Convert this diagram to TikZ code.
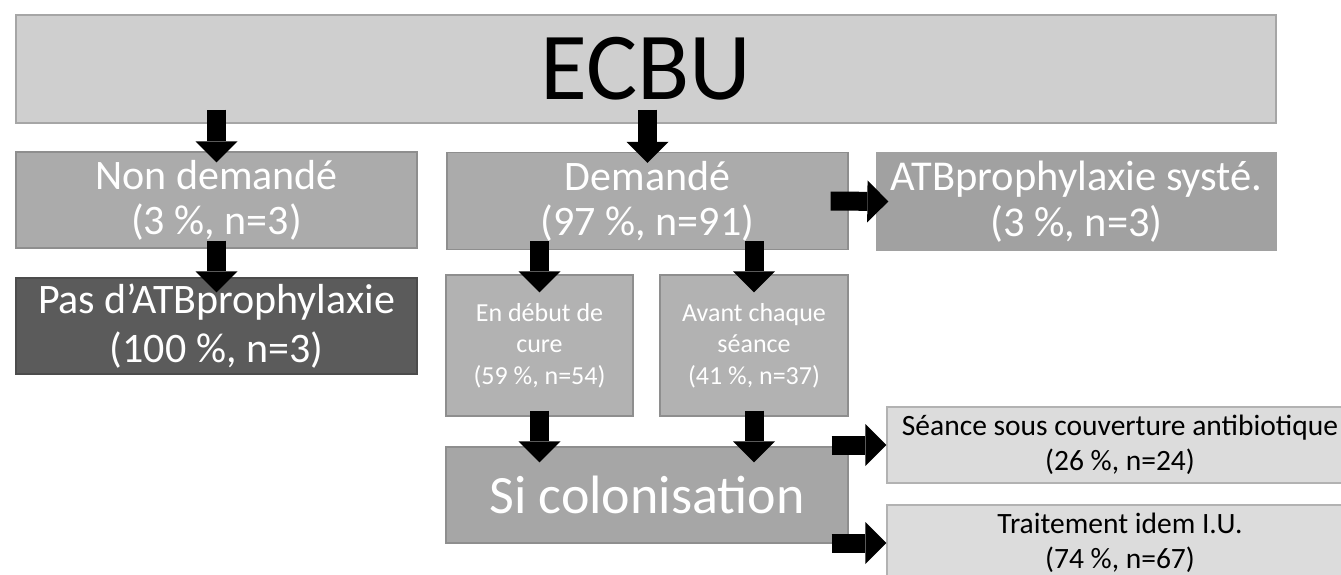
\documentclass[tikz,border=0pt]{standalone}
\usepackage{fontspec}
\setmainfont{Carlito}
\usetikzlibrary{arrows.meta}

\definecolor{lightgrey}{HTML}{CFCFCF}
\definecolor{midgrey}{HTML}{ABABAB}
\definecolor{edgegrey}{HTML}{8E8E8E}
\definecolor{darkgrey}{HTML}{5B5B5B}
\definecolor{palegrey}{HTML}{DCDCDC}

\begin{document}
\begin{tikzpicture}[x=1pt,y=-1pt,
    box/.style={rectangle, inner sep=0pt, align=center, line width=1.3pt},
    greybox/.style={box, fill=midgrey, draw=edgegrey, text=white},
    palebox/.style={box, fill=palegrey, draw=black!30, text=black,
        minimum width=466, minimum height=76,
        font=\fontsize{29.5}{35}\selectfont},
    bigarrow/.style={line width=19pt,
        -{Triangle[width=42pt,length=21pt,line width=0pt]}}
]
    % Fix the page size
    \useasboundingbox (0,0) rectangle (1341,574);

    % Top box
    \node[box, fill=lightgrey, draw=black!35, minimum width=1260, minimum height=108,
        font=\fontsize{96}{100}\selectfont] (ecbu) at (646,69) {ECBU};

    % Second row
    \node[greybox, minimum width=401, minimum height=96,
        font=\fontsize{42}{45}\selectfont] (nondem) at (216.5,200)
        {Non demandé\\(3 \%, n=3)};
    \node[greybox, minimum width=401, minimum height=97,
        font=\fontsize{42}{45}\selectfont] (dem) at (647.5,201)
        {Demandé\\(97 \%, n=91)};
    \node[box, fill=black!37, draw=black!37, text=white, minimum width=399,
        minimum height=97, font=\fontsize{42.5}{46}\selectfont] (atbsys) at (1076.5,201.5)
        {ATBprophylaxie systé.\\(3 \%, n=3)};

    % Third row
    \node[box, fill=darkgrey, draw=black!70, text=white, minimum width=401,
        minimum height=96, font=\fontsize{42}{49}\selectfont] (pas) at (216.5,326)
        {Pas d’ATBprophylaxie\\(100 \%, n=3)};
    \node[greybox, fill=black!30, minimum width=187, minimum height=141,
        font=\fontsize{26}{31.5}\selectfont] (debut) at (539.5,345.5)
        {En début de\\cure\\(59 \%, n=54)};
    \node[greybox, fill=black!30, minimum width=188, minimum height=141,
        font=\fontsize{26}{31.5}\selectfont] (avant) at (754,345.5)
        {Avant chaque\\séance\\(41 \%, n=37)};

    % Colonisation
    \node[greybox, fill=black!35, minimum width=402, minimum height=96,
        font=\fontsize{54}{58}\selectfont] (sicol) at (647,495) {Si colonisation};

    % Outcomes
    \node[palebox] (seance) at (1120,445)
        {Séance sous couverture antibiotique\\(26 \%, n=24)};
    \node[palebox] (traitement) at (1120,543)
        {Traitement idem I.U.\\(74 \%, n=67)};

    % Arrows
    \draw[bigarrow] ([yshift=14pt]ecbu.south -| nondem.north) -- ([yshift=-11pt]nondem.north);
    \draw[bigarrow] ([yshift=14pt]ecbu.south -| dem.north) -- ([yshift=-11pt]dem.north);
    \draw[bigarrow] ([yshift=8pt]nondem.south) -- ([yshift=-15pt]pas.north);
    \draw[bigarrow] ([yshift=9pt]dem.south -| debut.north) -- ([yshift=-18pt]debut.north);
    \draw[bigarrow] ([yshift=9pt]dem.south -| avant.north) -- ([yshift=-18pt]avant.north);
    \draw[bigarrow] ([xshift=-18pt]dem.east) -- ([xshift=12pt]atbsys.west);
    \draw[bigarrow] ([yshift=6pt]debut.south) -- ([yshift=-16pt]sicol.north -| debut.south);
    \draw[bigarrow] ([yshift=6pt]avant.south) -- ([yshift=-16pt]sicol.north -| avant.south);
    \draw[bigarrow] ([xshift=-17pt]sicol.east |- seance.west) -- (seance.west);
    \draw[bigarrow] ([xshift=-17pt]sicol.east |- traitement.west) -- (traitement.west);
\end{tikzpicture}
\end{document}
